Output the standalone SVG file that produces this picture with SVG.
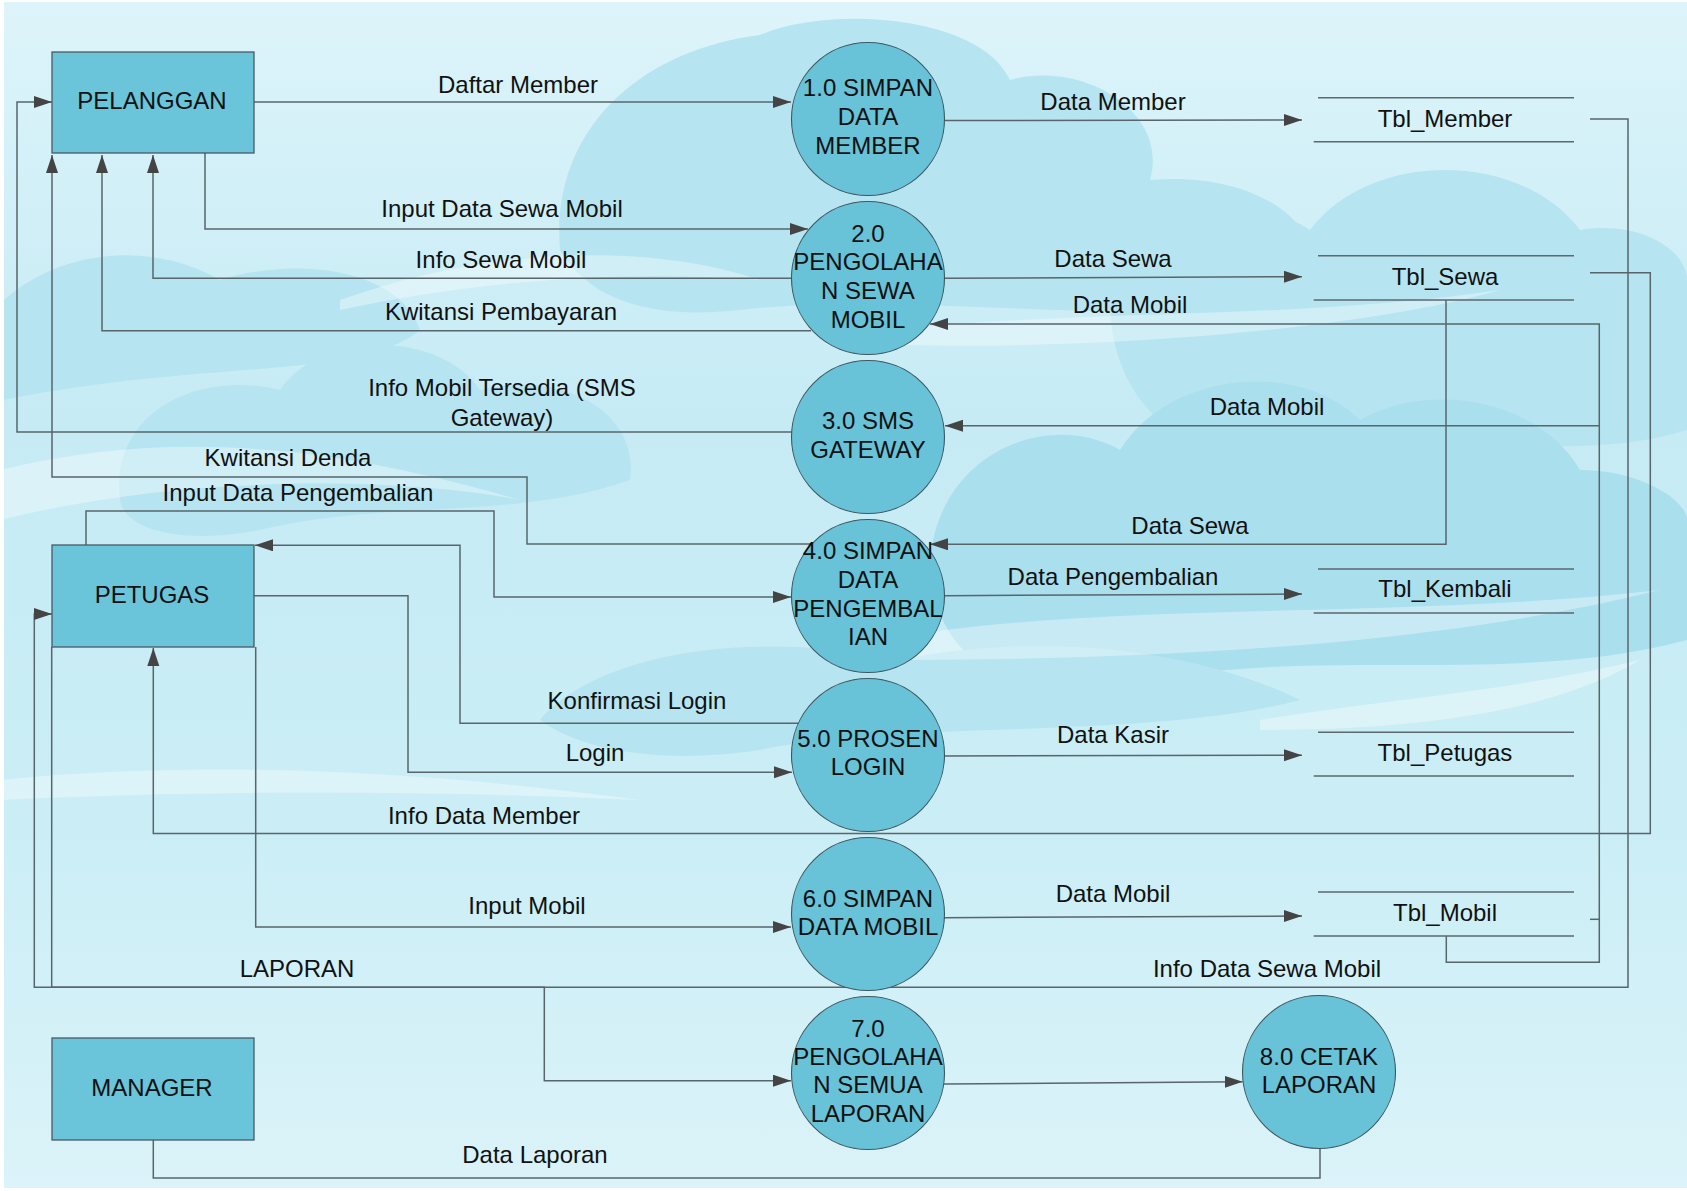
<svg xmlns="http://www.w3.org/2000/svg" width="1687" height="1191" viewBox="0 0 1687 1191">
<defs>
<linearGradient id="bg" x1="0" y1="0" x2="0" y2="1">
<stop offset="0" stop-color="#DDF4FA"/>
<stop offset="0.35" stop-color="#C6EBF5"/>
<stop offset="0.7" stop-color="#CBEEF6"/>
<stop offset="1" stop-color="#DBF3F9"/>
</linearGradient>
<marker id="arr" markerUnits="userSpaceOnUse" markerWidth="19" markerHeight="13" refX="18" refY="6" orient="auto">
<path d="M0,0 L18,6 L0,12 z" fill="#444"/>
</marker>
<style>
.bgc{fill:#B6E5F1;}
.bgd{fill:#AADFEE;}
.bgw{fill:#FFFFFF;opacity:0.35;}
.ln{fill:none;stroke:#58656B;stroke-width:1.5;}
.ar{marker-end:url(#arr);}
.ent{fill:#6AC4DA;stroke:#4A5A60;stroke-width:1.3;}
.proc{fill:#68C2D8;stroke:#3E5860;stroke-width:1.1;}
.st{fill:none;stroke:#5C686D;stroke-width:1.5;}
text{font-family:"Liberation Sans",Arial,sans-serif;font-size:24px;fill:#111;text-anchor:middle;}
</style>
</defs>
<rect x="0" y="0" width="1687" height="1191" fill="#FFFFFF"/>
<g id="background">
<rect x="4" y="2" width="1683" height="1186" fill="url(#bg)"/>
<path class="bgc" d="M560,250 C550,130 640,50 760,35 C830,5 980,15 1010,80 C1080,60 1170,110 1150,180 C1260,170 1340,230 1310,300 C1150,330 900,290 740,310 C650,320 590,300 560,250 Z"/>
<path class="bgc" d="M1110,300 C1140,210 1250,190 1310,230 C1370,150 1520,150 1580,230 C1640,220 1687,250 1687,280 L1687,430 C1560,470 1400,420 1260,450 C1180,460 1110,400 1110,300 Z"/>
<path class="bgd" d="M930,560 C940,450 1050,410 1120,450 C1170,370 1300,360 1360,420 C1430,380 1540,400 1580,470 C1640,470 1687,500 1687,520 L1687,640 C1500,690 1300,640 1100,690 C1000,700 930,650 930,560 Z"/>
<path class="bgc" d="M120,500 C110,410 200,370 280,390 C320,330 440,330 480,390 C560,370 640,410 630,480 C520,520 380,500 260,530 C180,545 125,530 120,500 Z"/>
<path class="bgc" d="M4,300 C60,250 150,240 220,280 C300,255 400,270 420,330 C360,380 200,360 4,400 Z"/>
<path class="bgc" d="M540,720 C600,650 760,630 900,660 C1040,630 1200,650 1300,700 C1150,740 900,720 760,750 C660,765 580,750 540,720 Z"/>
<path class="bgw" d="M0,470 C200,420 380,460 520,500 C420,480 200,470 0,520 Z"/>
<path class="bgw" d="M340,300 C480,250 640,240 760,280 C620,270 480,280 340,310 Z"/>
<path class="bgw" d="M900,330 C1050,310 1300,320 1500,290 C1360,330 1100,350 900,345 Z"/>
<path class="bgw" d="M0,780 C200,760 420,770 640,800 C420,790 220,790 0,800 Z"/>
<path class="bgw" d="M880,640 C1100,600 1400,620 1660,590 C1420,650 1120,660 880,660 Z"/>
<path class="bgw" d="M1260,720 C1380,700 1520,690 1640,660 C1540,720 1380,730 1260,730 Z"/>
</g>
<g id="connectors">
<path class="ln ar" d="M254,102 H791"/>
<path class="ln ar" d="M205,153 V229 H808"/>
<path class="ln ar" d="M800,278.3 H153 V155"/>
<path class="ln ar" d="M811,330.7 H102 V155"/>
<path class="ln ar" d="M800,432 H17 V102 H52"/>
<path class="ln ar" d="M812,544 H527 V477 H52 V155"/>
<path class="ln ar" d="M86,545 V511 H494 V597 H791"/>
<path class="ln ar" d="M1446,300 V544.3 H930"/>
<path class="ln ar" d="M800,723.3 H460 V545.3 H255"/>
<path class="ln ar" d="M254,595.7 H408 V772.3 H792"/>
<path class="ln ar" d="M1590,272.7 H1650.3 V833.5 H153.3 V648"/>
<path class="ln ar" d="M255.7,647 V927 H791"/>
<path class="ln ar" d="M1590,119 H1628 V987.3 H34.3 V614 H52"/>
<path class="ln ar" d="M51.7,647 V987.3 H544.3 V1080.7 H791"/>
<path class="ln ar" d="M1446.3,936 V962.3 H1599.3 V324 H930"/>
<path class="ln" d="M1590,919.3 H1599.3"/>
<path class="ln ar" d="M1599.3,425.7 H945"/>
<path class="ln ar" d="M944,120.5 L1302,120"/>
<path class="ln ar" d="M944,278.3 L1302,276.7"/>
<path class="ln ar" d="M944,595.7 L1302,594"/>
<path class="ln ar" d="M944,756 L1302,755.3"/>
<path class="ln ar" d="M944,917.7 L1302,916"/>
<path class="ln ar" d="M944,1084 L1242.7,1081.7"/>
<path class="ln" d="M1320,1149 V1178 H153.3 V1140"/>
</g>
<g id="labels">
<text x="518" y="93">Daftar Member</text>
<text x="502" y="217">Input Data Sewa Mobil</text>
<text x="501" y="268">Info Sewa Mobil</text>
<text x="501" y="320">Kwitansi Pembayaran</text>
<text x="502" y="396">Info Mobil Tersedia (SMS</text>
<text x="502" y="426">Gateway)</text>
<text x="288" y="466">Kwitansi Denda</text>
<text x="298" y="501">Input Data Pengembalian</text>
<text x="637" y="709">Konfirmasi Login</text>
<text x="595" y="761">Login</text>
<text x="484" y="824">Info Data Member</text>
<text x="527" y="914">Input Mobil</text>
<text x="297" y="977">LAPORAN</text>
<text x="535" y="1163">Data Laporan</text>
<text x="1113" y="110">Data Member</text>
<text x="1113" y="267">Data Sewa</text>
<text x="1130" y="313">Data Mobil</text>
<text x="1267" y="415">Data Mobil</text>
<text x="1190" y="534">Data Sewa</text>
<text x="1113" y="585">Data Pengembalian</text>
<text x="1113" y="743">Data Kasir</text>
<text x="1113" y="902">Data Mobil</text>
<text x="1267" y="977">Info Data Sewa Mobil</text>
</g>
<g id="pelanggan">
<rect class="ent" x="52" y="52" width="202" height="101"/>
<text x="152" y="109">PELANGGAN</text>
</g>
<g id="petugas">
<rect class="ent" x="52" y="545" width="202" height="102"/>
<text x="152" y="603">PETUGAS</text>
</g>
<g id="manager">
<rect class="ent" x="52" y="1038" width="202" height="102"/>
<text x="152" y="1096">MANAGER</text>
</g>
<g id="p1">
<circle class="proc" cx="868" cy="119" r="76.5"/>
<text x="868" y="96">1.0 SIMPAN</text>
<text x="868" y="125">DATA</text>
<text x="868" y="154">MEMBER</text>
</g>
<g id="p2">
<circle class="proc" cx="868" cy="278" r="76.5"/>
<text x="868" y="242">2.0</text>
<text x="868" y="270">PENGOLAHA</text>
<text x="868" y="299">N SEWA</text>
<text x="868" y="328">MOBIL</text>
</g>
<g id="p3">
<circle class="proc" cx="868" cy="437" r="76.5"/>
<text x="868" y="429">3.0 SMS</text>
<text x="868" y="458">GATEWAY</text>
</g>
<g id="p4">
<circle class="proc" cx="868" cy="596" r="76.5"/>
<text x="868" y="559">4.0 SIMPAN</text>
<text x="868" y="588">DATA</text>
<text x="868" y="617">PENGEMBAL</text>
<text x="868" y="645">IAN</text>
</g>
<g id="p5">
<circle class="proc" cx="868" cy="755" r="76.5"/>
<text x="868" y="747">5.0 PROSEN</text>
<text x="868" y="775">LOGIN</text>
</g>
<g id="p6">
<circle class="proc" cx="868" cy="914" r="76.5"/>
<text x="868" y="907">6.0 SIMPAN</text>
<text x="868" y="935">DATA MOBIL</text>
</g>
<g id="p7">
<circle class="proc" cx="868" cy="1073" r="76.5"/>
<text x="868" y="1037">7.0</text>
<text x="868" y="1065">PENGOLAHA</text>
<text x="868" y="1093">N SEMUA</text>
<text x="868" y="1122">LAPORAN</text>
</g>
<g id="p8">
<circle class="proc" cx="1319" cy="1072" r="76.5"/>
<text x="1319" y="1065">8.0 CETAK</text>
<text x="1319" y="1093">LAPORAN</text>
</g>
<g id="tbl_member">
<path class="st" d="M1318,97.7 H1574 M1313.7,141.7 H1574"/>
<text x="1445" y="127">Tbl_Member</text>
</g>
<g id="tbl_sewa">
<path class="st" d="M1318,255.7 H1574 M1313.7,300 H1574"/>
<text x="1445" y="285">Tbl_Sewa</text>
</g>
<g id="tbl_kembali">
<path class="st" d="M1318,569 H1574 M1313.7,613 H1574"/>
<text x="1445" y="597">Tbl_Kembali</text>
</g>
<g id="tbl_petugas">
<path class="st" d="M1318,732.3 H1574 M1313.7,776 H1574"/>
<text x="1445" y="761">Tbl_Petugas</text>
</g>
<g id="tbl_mobil">
<path class="st" d="M1318,892 H1574 M1313.7,936 H1574"/>
<text x="1445" y="921">Tbl_Mobil</text>
</g>
</svg>
